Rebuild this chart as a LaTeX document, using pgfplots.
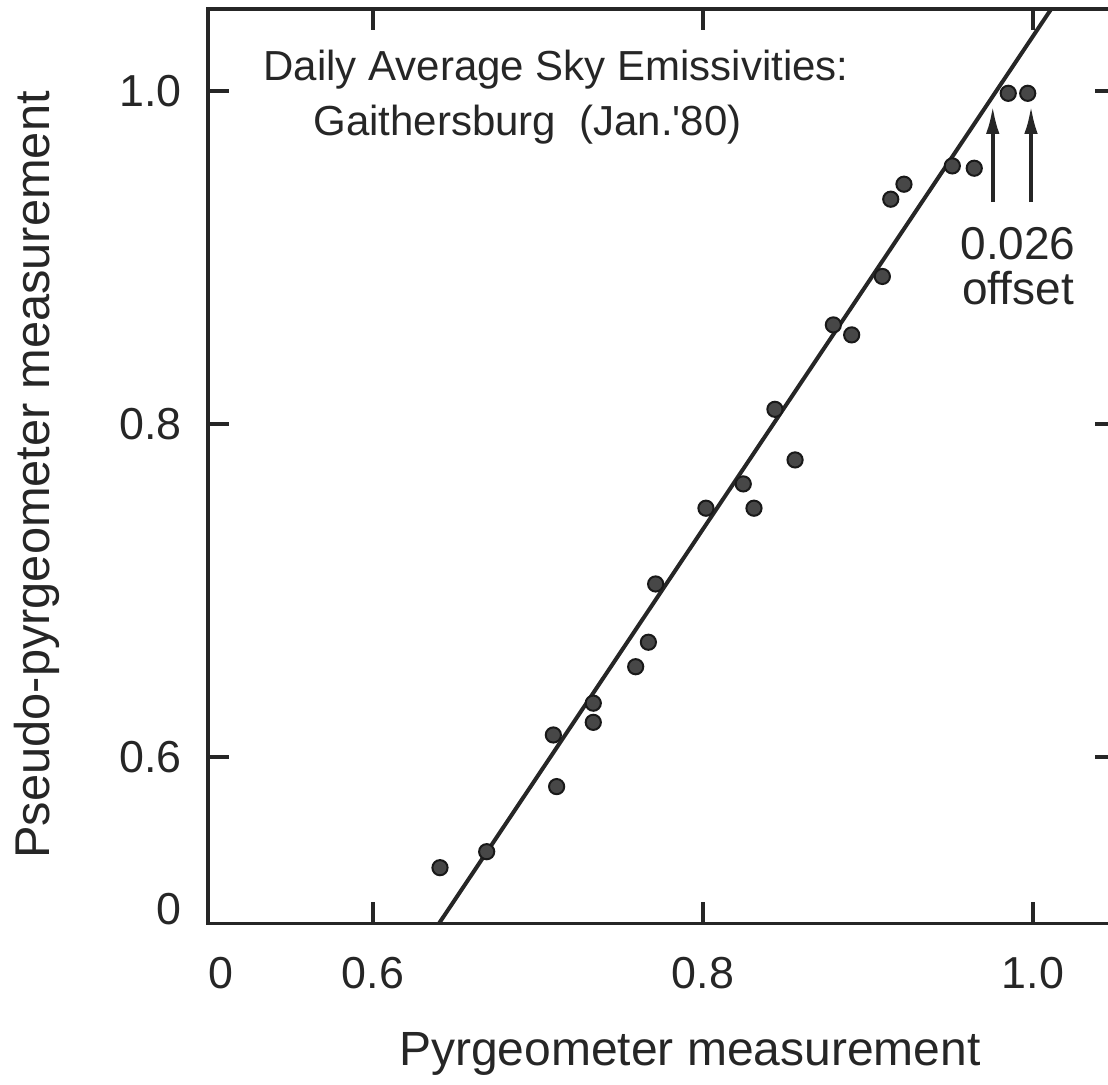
\documentclass[border=0pt]{standalone}
\usepackage{fontspec}
\setmainfont{Liberation Sans}
\usepackage{pgfplots}
\pgfplotsset{compat=1.18}
\usetikzlibrary{arrows.meta}
\begin{document}
\begin{tikzpicture}
\begin{axis}[
  x=412.5pt, y=416.25pt,
  xmin=0.5, xmax=1.05, ymin=0.5, ymax=1.0492,
  clip=false,
  axis line style={line width=0.8pt, black!85},
  tick align=inside,
  major tick length=5.25pt,
  tick style={line width=0.8pt, black!85},
  xtick={0.6,0.8,1.0}, xticklabels={0.6,0.8,1.0},
  ytick={0.6,0.8,1.0}, yticklabels={0.6,0.8,1.0},
  tick label style={font=\fontsize{11.2}{13}\selectfont, black!85},
  xticklabel style={yshift=-4.8pt},
  yticklabel style={xshift=-3pt},
  extra x ticks={0.5}, extra x tick labels={0},
  extra x tick style={major tick length=0pt, xticklabel style={xshift=3.2pt}},
  extra y ticks={0.5}, extra y tick labels={0},
  extra y tick style={major tick length=0pt, yticklabel style={yshift=3.5pt}},
]
\addplot[line width=1pt, black!85] coordinates {(0.64,0.5) (1.011,1.0492)};
\addplot[only marks, mark=*, mark size=1.9pt, mark options={fill=black!72, draw=black!90, line width=0.5pt}] coordinates {
(0.6406,0.5335) (0.6689,0.5431) (0.7093,0.6132) (0.7113,0.5822)
(0.7335,0.6323) (0.7335,0.6208) (0.7592,0.6542) (0.7669,0.6689)
(0.7713,0.7039) (0.8018,0.7494) (0.8244,0.7640) (0.8309,0.7494)
(0.8436,0.8088) (0.8558,0.7784) (0.8790,0.8595) (0.8901,0.8535)
(0.9087,0.8886) (0.9138,0.9350) (0.9218,0.9440) (0.9511,0.9550)
(0.9644,0.9536) (0.9850,0.9986) (0.9968,0.9986)
};
\draw[line width=0.9pt, black!85, -{Latex[length=7pt,width=3.4pt]}] (axis cs:0.9756,0.9333) -- (axis cs:0.9756,0.991);
\draw[line width=0.9pt, black!85, -{Latex[length=7pt,width=3.4pt]}] (axis cs:0.9988,0.9333) -- (axis cs:0.9988,0.991);
\node[anchor=base, font=\fontsize{11.5}{14}\selectfont, black!85] at (axis cs:0.9909,0.8985) {0.026};
\node[anchor=base, font=\fontsize{11.5}{14}\selectfont, black!85] at (axis cs:0.9909,0.8715) {offset};
\node[anchor=base, font=\fontsize{10.5}{13}\selectfont, black!85] at (axis cs:0.7109,1.0060) {Daily Average Sky Emissivities:};
\node[anchor=base, font=\fontsize{10.5}{13}\selectfont, black!85] at (axis cs:0.6937,0.9730) {Gaithersburg\ \ (Jan.\textquotesingle 80)};
\node[anchor=base, font=\fontsize{12}{14}\selectfont, black!85] at (axis cs:0.7921,0.4144) {Pyrgeometer measurement};
\node[anchor=base, rotate=90, font=\fontsize{12.2}{14}\selectfont, black!85] at (axis cs:0.4042,0.7694) {Pseudo-pyrgeometer measurement};
\coordinate (bl) at (axis cs:0.37394,0.40300);
\coordinate (tr) at (axis cs:1.04545,1.05465);
\end{axis}
\pgfresetboundingbox
\useasboundingbox (bl) rectangle (tr);
\end{tikzpicture}
\end{document}
